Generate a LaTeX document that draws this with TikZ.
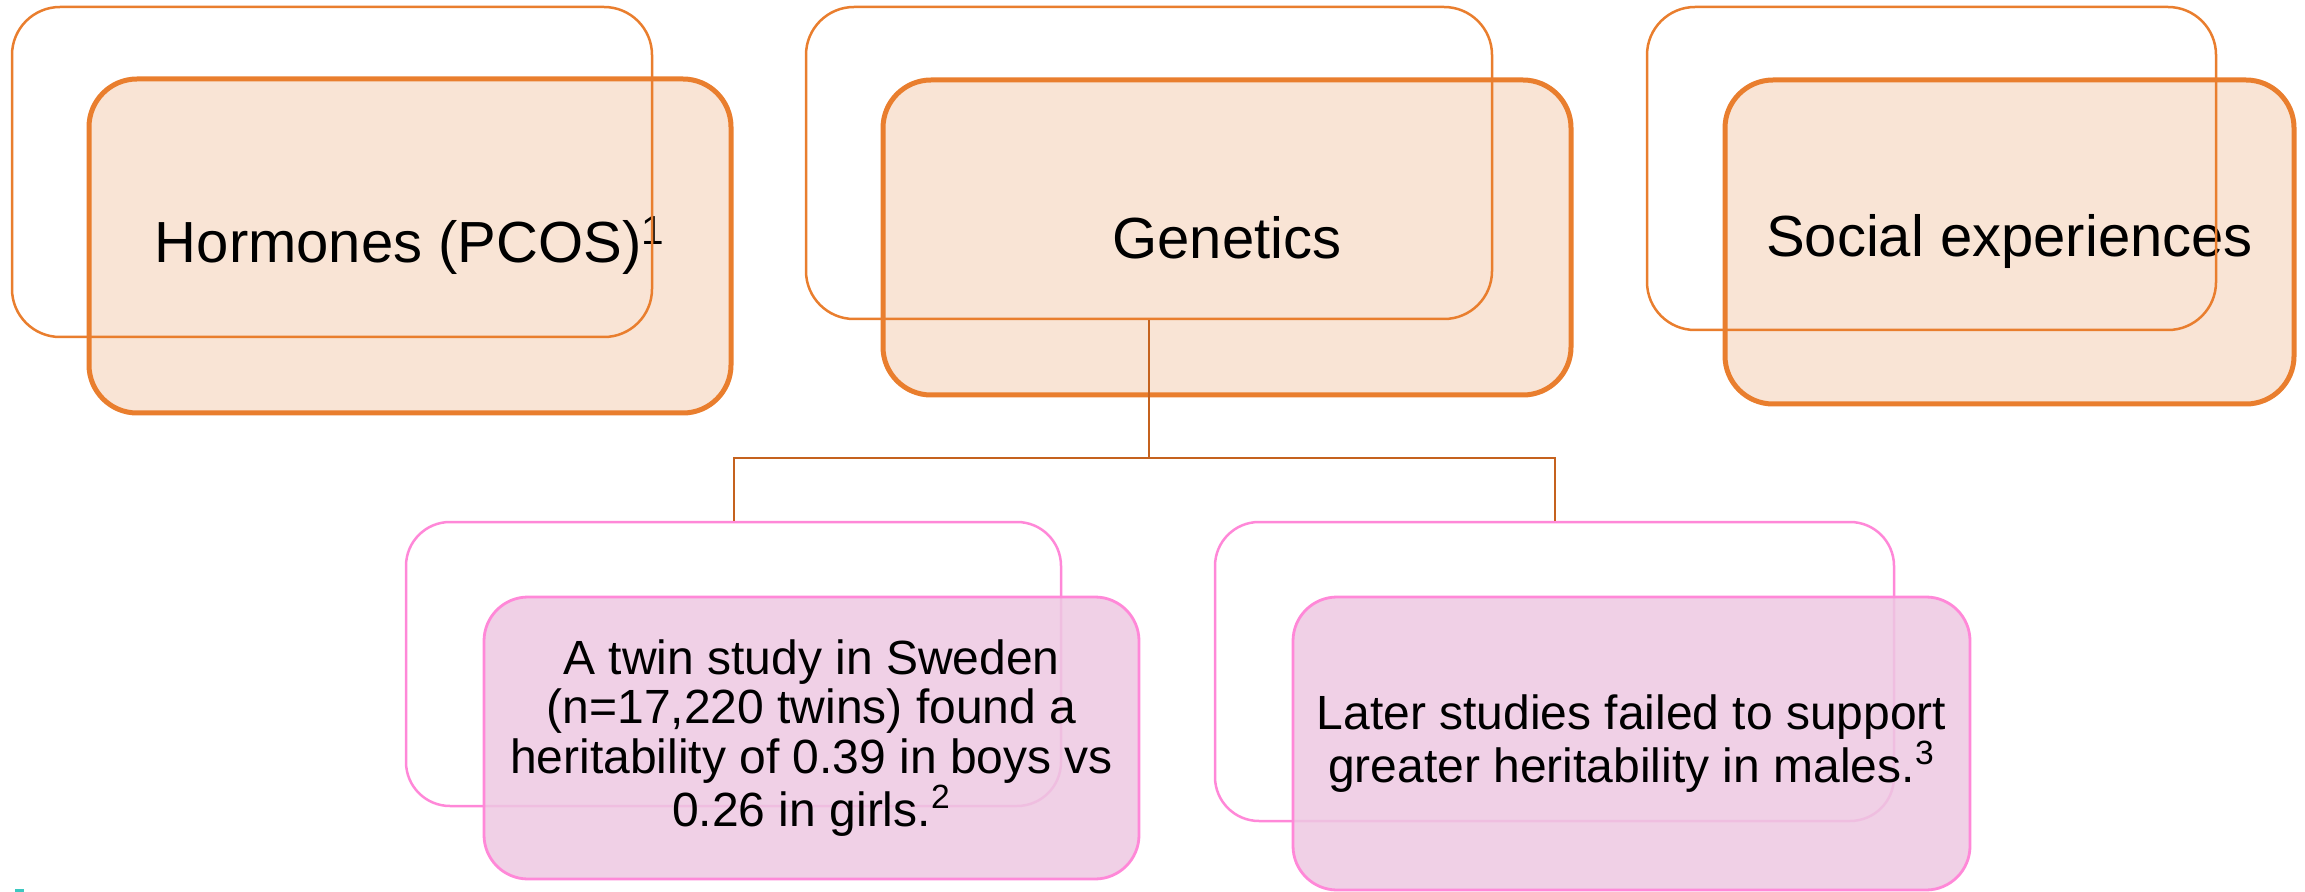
\documentclass[tikz,border=0pt]{standalone}
\usepackage{fontspec}
\setmainfont{Liberation Sans}
\definecolor{oline}{HTML}{E97E2E}
\definecolor{ofill}{HTML}{F9E4D5}
\definecolor{pline}{HTML}{FF88D8}
\definecolor{pfill}{HTML}{EDC8E2}
\definecolor{conncol}{HTML}{C5621E}
\definecolor{tealmark}{HTML}{3CC8C0}
\begin{document}
\begin{tikzpicture}[x=0.5pt,y=-0.5pt,
  backO/.style={draw=oline, line width=1.25pt, rounded corners=24pt, inner sep=0pt},
  frontO/.style={draw=oline, line width=2.5pt, fill=ofill, rounded corners=24pt, inner sep=0pt,
    align=center, font=\fontsize{29pt}{33pt}\selectfont},
  backP/.style={draw=pline, line width=1.25pt, rounded corners=22pt, inner sep=0pt},
  frontP/.style={draw=pline, line width=1.4pt, fill=pfill, fill opacity=0.85, text opacity=1,
    rounded corners=22pt, inner sep=0pt, align=center, font=\fontsize{24pt}{24.75pt}\selectfont},
  conn/.style={draw=conncol, line width=1pt}]
\useasboundingbox (0,0) rectangle (2305,892);
% top row: front boxes first, back outlines on top
\node[frontO, minimum width=321pt, minimum height=167pt] (hf) at (410,246) {Hormones (PCOS)\textsuperscript{1}};
\node[backO, minimum width=320pt, minimum height=165pt] (hb) at (332,172) {};
\node[frontO, minimum width=344pt, minimum height=157.5pt] (gf) at (1227,237.5) {Genetics};
\node[backO, minimum width=343pt, minimum height=156pt] (gb) at (1149,163) {};
\node[frontO, minimum width=284.5pt, minimum height=162pt] (sf) at (2009.5,242) {Social experiences};
\node[backO, minimum width=284.5pt, minimum height=161.5pt] (sb) at (1931.5,168.5) {};
% bottom row: back outlines first, translucent front boxes on top
\node[backP, minimum width=327.5pt, minimum height=142pt] (lb) at (733.5,664) {};
\node[frontP, minimum width=327.5pt, minimum height=141pt] (lf) at (811.5,738)
  {A twin study in Sweden\\(n=17,220 twins) found a\\heritability of 0.39 in boys vs\\0.26 in girls.\textsuperscript{2}};
\node[backP, minimum width=339.5pt, minimum height=149.5pt] (rb) at (1554.5,671.5) {};
\node[frontP, minimum width=338.5pt, minimum height=146.5pt] (rf) at (1631.5,743.5)
  {Later studies failed to support\\greater heritability in males.\textsuperscript{3}};
% connectors
\path (gb.south) ++(0,138) coordinate (j);
\draw[conn] (gb.south) -- (j) -| (lb.north);
\draw[conn] (j) -| (rb.north);
% small teal mark at the lower left edge
\fill[tealmark] (15,889) rectangle (24,892);
\end{tikzpicture}
\end{document}
